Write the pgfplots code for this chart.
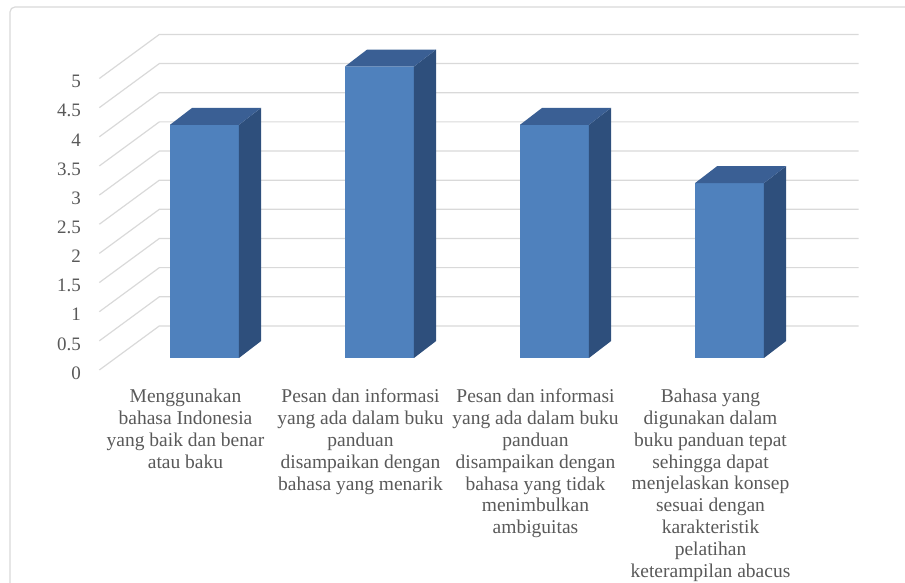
\documentclass[border=0pt]{standalone}
\usepackage{pgfplots}
\pgfplotsset{compat=1.18}
\usepackage{pgfplotstable}
\usepackage{fontspec}
\setmainfont{Liberation Serif}
\definecolor{frontc}{RGB}{79,129,189}
\definecolor{sidec}{RGB}{46,79,124}
\definecolor{topc}{RGB}{58,95,148}
\definecolor{gridc}{RGB}{217,217,217}
\definecolor{txtc}{RGB}{89,89,89}
\pgfplotstableread{
x y
0 4
1 5
2 4
3 3
}\datatable
\begin{document}
\begin{tikzpicture}[x=1pt,y=1pt]
\path[use as bounding box] (0,0) rectangle (905,583);
\draw[gridc, line width=1.2pt, rounded corners=5pt] (10,-10) -- (10,576) -- (920,576);
\begin{axis}[
  anchor=south west, at={(82pt,204.6pt)},
  x=175pt, y=58.3pt,
  xmin=-0.7, xmax=3.85, ymin=-0.35, ymax=5.8,
  clip=false,
  axis line style={draw=none},
  major tick length=0pt,
  xtick={0,1,2,3},
  xticklabels={{Menggunakan\\bahasa Indonesia\\yang baik dan benar\\atau baku},
    {Pesan dan informasi\\yang ada dalam buku\\panduan\\disampaikan dengan\\bahasa yang menarik},
    {Pesan dan informasi\\yang ada dalam buku\\panduan\\disampaikan dengan\\bahasa yang tidak\\menimbulkan\\ambiguitas},
    {Bahasa yang\\digunakan dalam\\buku panduan tepat\\sehingga dapat\\menjelaskan konsep\\sesuai dengan\\karakteristik\\pelatihan\\keterampilan abacus}},
  ytick={0,0.5,1,1.5,2,2.5,3,3.5,4,4.5,5},
  yticklabel style={anchor=east, inner sep=0pt, xshift=-1pt, yshift=-15pt, font=\fontsize{19}{22}\selectfont, text=txtc},
  xticklabel style={anchor=north, inner sep=0pt, align=center, xshift=-19pt, yshift=-10.6pt, font=\fontsize{19.5}{21.8}\selectfont, text=txtc},
  /pgf/number format/assume math mode=true,
]
% 3D gridlines: back wall and side floor diagonals
\pgfplotsinvokeforeach{0,0.5,1,1.5,2,2.5,3,3.5,4,4.5,5}{
  \pgfmathsetmacro\yb{#1+0.55}
  \pgfmathsetmacro\yf{#1-0.206}
  \edef\temp{\noexpand\addplot[gridc, line width=1.2pt, forget plot] coordinates {(-0.601,\yf) (-0.258,\yb) (3.738,\yb)};}
  \temp
}
% front faces
\addplot[ybar, bar width=0.394, bar shift=0pt, fill=frontc, draw=none] table[x=x,y=y]{\datatable};
% side and top faces
\pgfplotsinvokeforeach{0,1,2,3}{
  \pgfplotstablegetelem{#1}{y}\of\datatable
  \let\v=\pgfplotsretval
  \pgfmathsetmacro\xa{#1+0.197}
  \pgfmathsetmacro\xb{#1+0.197+0.126}
  \pgfmathsetmacro\xc{#1-0.197}
  \pgfmathsetmacro\xd{#1-0.197+0.126}
  \pgfmathsetmacro\vt{\v+0.29}
  \edef\temp{\noexpand\addplot[fill=sidec, draw=none, forget plot] coordinates {(\xa,0) (\xb,0.29) (\xb,\vt) (\xa,\v)} -- cycle;
    \noexpand\addplot[fill=topc, draw=none, forget plot] coordinates {(\xc,\v) (\xa,\v) (\xb,\vt) (\xd,\vt)} -- cycle;}
  \temp
}
\end{axis}
\end{tikzpicture}
\end{document}
